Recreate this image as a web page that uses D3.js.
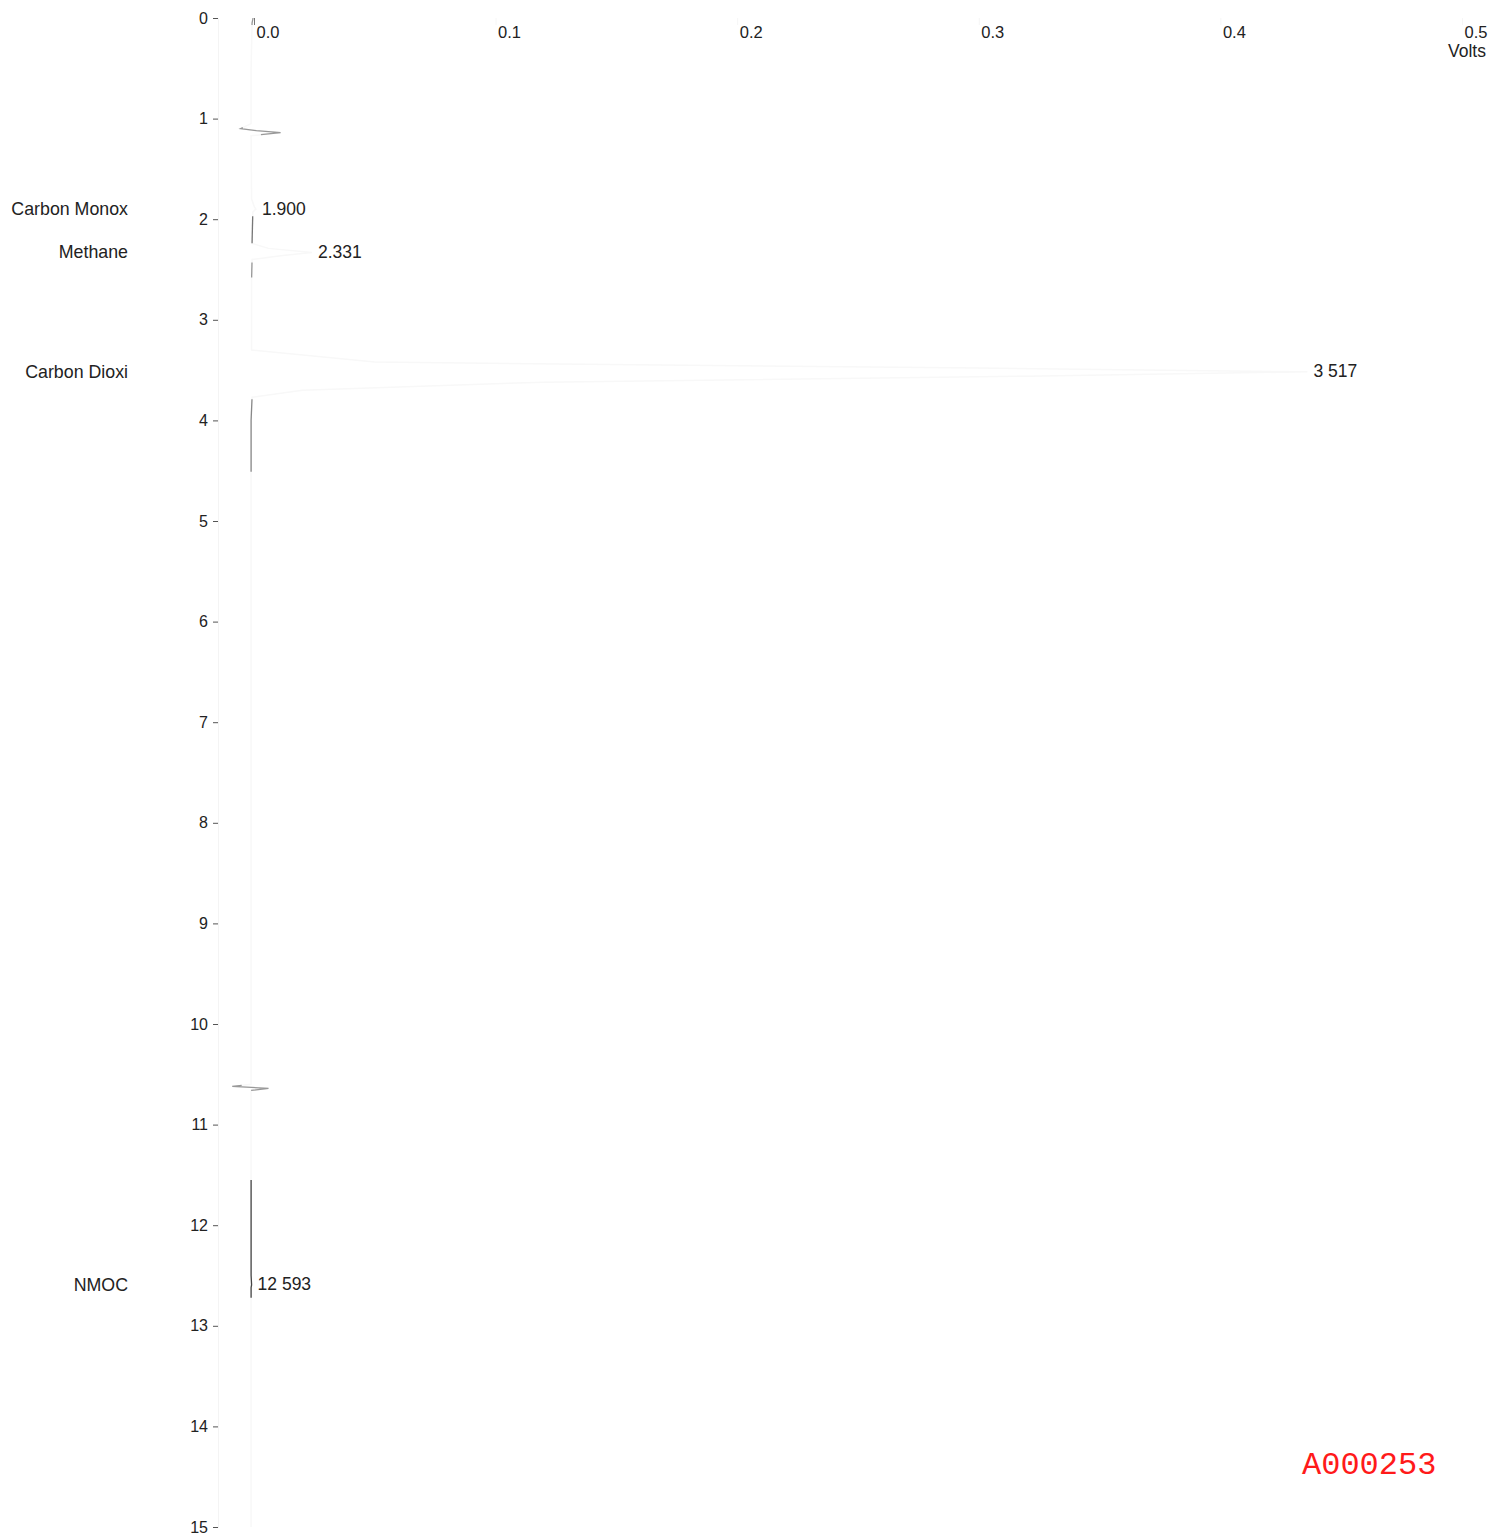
<!DOCTYPE html>
<html>
<head>
<meta charset="utf-8">
<script src="https://cdn.jsdelivr.net/npm/d3@7"></script>
<style>
  html, body { margin: 0; padding: 0; background: #fff; }
  svg { display: block; font-family: "Liberation Sans", Arial, sans-serif; }
</style>
</head>
<body>
<svg id="chart" width="1491" height="1534"></svg>
<script>
// Detector trace: [retention time (min), signal (V)]
const trace = [
  [0.00, -0.0004], [0.05, -0.0008], [0.50, -0.0012], [1.05, -0.0012],
  [1.10, -0.0055], [1.12, 0.0010], [1.14, 0.0110], [1.17, -0.0012],
  [1.80, -0.0010], [1.88, 0.0002], [1.90, 0.0008], [1.93, -0.0005],
  [2.24, -0.0008], [2.29, 0.0060], [2.331, 0.0240], [2.36, 0.0120],
  [2.40, -0.0008], [2.60, -0.0010], [3.30, -0.0010], [3.42, 0.0500],
  [3.48, 0.3000], [3.517, 0.4360], [3.56, 0.3200], [3.62, 0.1200],
  [3.70, 0.0200], [3.77, -0.0008], [4.00, -0.0012], [6.00, -0.0012],
  [8.00, -0.0012], [10.60, -0.0012], [10.62, -0.0090], [10.64, 0.0060],
  [10.66, -0.0012], [12.50, -0.0012], [12.593, -0.0010], [12.62, -0.0012],
  [15.00, -0.0012]
];

// Integrated peaks
const peakNames = ["Carbon Monox", "Methane", "Carbon Dioxi", "NMOC"];
const peakTimes = [1.900, 2.331, 3.517, 12.593];
const peakLabels = ["1.900", "2.331", "3 517", "12 593"];
const peakHeights = [0.0008, 0.0240, 0.4360, -0.0010];

// Stretches of the trace that print clearly: [start, end, shade]
const inkSpans = [
  [0.00, 0.07, "#999"], [1.09, 1.16, "#999"], [1.97, 2.24, "#777"],
  [2.43, 2.58, "#999"], [3.79, 4.51, "#888"], [10.61, 10.66, "#999"],
  [11.55, 12.72, "#444"]
];

const timeTicks = d3.range(0, 16);
const voltTicks = [0, 0.1, 0.2, 0.3, 0.4, 0.5];

const svg = d3.select("#chart");

const y = d3.scaleLinear().domain([0, 15]).range([18, 1527]);
const x = d3.scaleLinear().domain([0, 0.5]).range([254, 1462]);

// Time axis (vertical)
const yAxis = d3.axisLeft(y).tickValues(timeTicks).tickSize(5).tickPadding(5).tickFormat(d3.format("d"));
const gy = svg.append("g").attr("transform", "translate(218,0)").call(yAxis);
gy.select(".domain").attr("stroke", "#f4f4f4");
gy.selectAll(".tick line").attr("stroke", "#555");
gy.selectAll(".tick text").attr("fill", "#222").attr("font-size", 16).attr("dy", "0.32em")
  .attr("font-family", "Liberation Sans, Arial, sans-serif");

// Signal axis (top)
const xAxis = d3.axisBottom(x).tickValues(voltTicks).tickSize(7).tickFormat(d3.format(".1f"));
const gx = svg.append("g").attr("transform", `translate(0,${y(0)})`).call(xAxis);
gx.select(".domain").remove();
gx.selectAll(".tick line").attr("stroke", (d, i) => i === 0 ? "#777" : "#f6f6f6");
gx.selectAll(".tick text").attr("fill", "#222").attr("font-size", 16.5)
  .attr("text-anchor", "start").attr("x", 2).attr("y", 8).attr("dy", "0.71em")
  .attr("font-family", "Liberation Sans, Arial, sans-serif");

svg.append("text").attr("x", 1486).attr("y", 57).attr("text-anchor", "end")
  .attr("font-size", 17.5).attr("fill", "#222").text("Volts");

// Full trace (faint), then the clearly printed stretches over it
const line = d3.line().x(d => x(d[1])).y(d => y(d[0]));
svg.append("path").datum(trace).attr("d", line)
  .attr("fill", "none").attr("stroke", "#f8f8f8").attr("stroke-width", 1.5);

const vAt = t => {
  const i = d3.bisector(d => d[0]).left(trace, t);
  if (i <= 0) return trace[0][1];
  if (i >= trace.length) return trace[trace.length - 1][1];
  const a = trace[i - 1], b = trace[i];
  return a[1] + (b[1] - a[1]) * (t - a[0]) / (b[0] - a[0]);
};
inkSpans.forEach(([t0, t1, shade]) => {
  const seg = trace.filter(d => d[0] > t0 && d[0] < t1);
  const pts = [[t0, vAt(t0)], ...seg, [t1, vAt(t1)]];
  svg.append("path").datum(pts).attr("d", line)
    .attr("fill", "none").attr("stroke", shade).attr("stroke-width", 1.3);
});

// Compound names at the left
svg.append("g").selectAll("text").data(peakNames).join("text")
  .attr("x", 128).attr("y", (d, i) => y(peakTimes[i])).attr("dy", "0.32em")
  .attr("text-anchor", "end").attr("font-size", 17.8).attr("fill", "#222")
  .text(d => d);

// Retention time labels at each apex
svg.append("g").selectAll("text").data(peakLabels).join("text")
  .attr("x", (d, i) => x(peakHeights[i]) + 6)
  .attr("y", (d, i) => y(peakTimes[i]))
  .attr("dy", "0.32em").attr("font-size", 17.5).attr("fill", "#222")
  .text(d => d);

// Sample identifier
svg.append("text").attr("x", 1302).attr("y", 1474)
  .attr("font-family", "Liberation Mono, Courier New, monospace")
  .attr("font-size", 32).attr("fill", "#ff1a1a").text("A000253");
</script>
</body>
</html>
